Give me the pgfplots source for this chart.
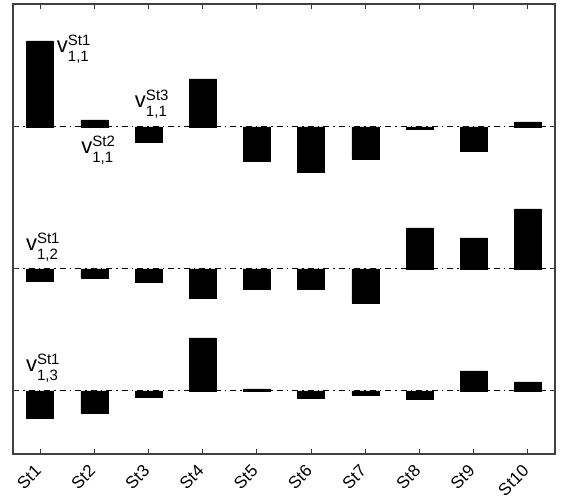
\documentclass[border=0pt]{standalone}
\usepackage{fontspec}
\setmainfont{Liberation Sans}
\setsansfont{Liberation Sans}
\usepackage{pgfplots}
\pgfplotsset{compat=1.18}
\newcommand\vlab[2]{\fontsize{22}{22}\selectfont v\rlap{\raisebox{-9pt}{\fontsize{15}{15}\selectfont #2}}\raisebox{6.5pt}{\fontsize{15}{15}\selectfont St#1}}
\begin{document}
\begin{tikzpicture}
\pgfplotsset{common/.style={scale only axis, width=542pt, height=450pt,
  xmin=0.5, xmax=10.5, at={(0,0)}, anchor=south west}}
\pgfplotsset{grp/.style={common, hide axis, ybar, bar width=27pt, clip=false}}
\path (-13pt,-46pt) rectangle (557pt,454pt);
% frame axis
\begin{axis}[common, ymin=0, ymax=450,
  axis line style={draw=black!75, line width=1.2pt},
  xtick={1,...,10},
  xticklabels={St1,St2,St3,St4,St5,St6,St7,St8,St9,St10},
  xticklabel style={xshift=-2pt, rotate=45, anchor=east, inner sep=0pt, font=\fontsize{17}{19}\selectfont},
  xticklabel shift=14pt,
  ytick={63,185,327}, yticklabels={},
  tick align=inside, major tick length=5pt,
  tick style={draw=black!80, line width=1pt},
  ymajorgrids, grid style={black, line width=1pt, dash pattern=on 6pt off 4pt on 1.5pt off 4pt},
  clip=false]
\addplot[draw=none] coordinates {(1,0)};
\node[inner sep=0pt] at (axis cs:1.62,405) {\vlab{1}{1,1}};
\node[inner sep=0pt] at (axis cs:2.07,304) {\vlab{2}{1,1}};
\node[inner sep=0pt] at (axis cs:3.06,350) {\vlab{3}{1,1}};
\node[inner sep=0pt] at (axis cs:1.05,207) {\vlab{1}{1,2}};
\node[inner sep=0pt] at (axis cs:1.05,86) {\vlab{1}{1,3}};
\end{axis}
% group 1
\begin{axis}[grp, ymin=-327, ymax=123]
\addplot[fill=black, draw=black] coordinates {(1,86) (2,7) (3,-15) (4,48) (5,-34) (6,-45) (7,-32) (8,-2) (9,-24) (10,5)};
\end{axis}
% group 2
\begin{axis}[grp, ymin=-185, ymax=265]
\addplot[fill=black, draw=black] coordinates {(1,-12) (2,-9) (3,-13) (4,-29) (5,-20) (6,-20) (7,-34) (8,41) (9,31) (10,60)};
\end{axis}
% group 3
\begin{axis}[grp, ymin=-63, ymax=387]
\addplot[fill=black, draw=black] coordinates {(1,-27) (2,-22) (3,-6) (4,53) (5,2) (6,-7) (7,-4) (8,-8) (9,20) (10,9)};
\end{axis}
\end{tikzpicture}
\end{document}
